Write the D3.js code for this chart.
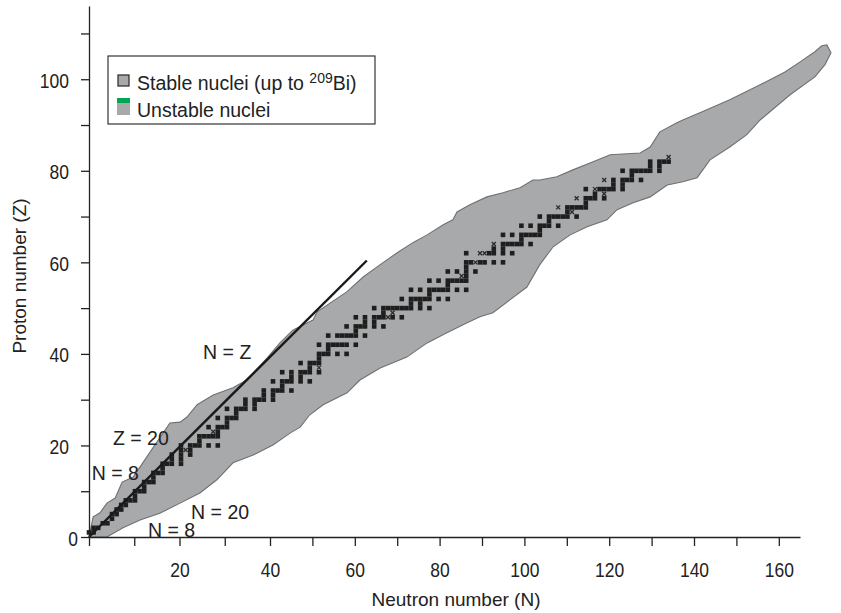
<!DOCTYPE html>
<html>
<head>
<meta charset="utf-8">
<script src="https://cdnjs.cloudflare.com/ajax/libs/d3/7.8.5/d3.min.js"></script>
<style>
  body { margin: 0; background: #fff; }
  text { font-family: "Liberation Sans", Arial, sans-serif; fill: #222; }
</style>
</head>
<body>
<script>
const w = 841;
const h = 613;

// stable nuclides: [Z, [N, ...]]
const stable = [
  [1, [0, 1]], [2, [1, 2]], [3, [3, 4]], [4, [5]], [5, [5, 6]], [6, [6, 7]],
  [7, [7, 8]], [8, [8, 9, 10]], [9, [10]], [10, [10, 11, 12]], [11, [12]],
  [12, [12, 13, 14]], [13, [14]], [14, [14, 15, 16]], [15, [16]],
  [16, [16, 17, 18, 20]], [17, [18, 20]], [18, [18, 20, 22]], [19, [20, 22]],
  [20, [20, 22, 23, 24, 26, 28]], [21, [24]], [22, [24, 25, 26, 27, 28]],
  [23, [28]], [24, [26, 28, 29, 30]], [25, [30]], [26, [28, 30, 31, 32]],
  [27, [32]], [28, [30, 32, 33, 34, 36]], [29, [34, 36]],
  [30, [34, 36, 37, 38, 40]], [31, [38, 40]], [32, [38, 40, 41, 42, 44]],
  [33, [42]], [34, [40, 42, 43, 44, 46, 48]], [35, [44, 46]],
  [36, [42, 44, 46, 47, 48, 50]], [37, [48]], [38, [46, 48, 49, 50]],
  [39, [50]], [40, [50, 51, 52, 54, 56]], [41, [52]],
  [42, [50, 52, 53, 54, 55, 56, 58]], [44, [52, 54, 55, 56, 57, 58, 60]],
  [45, [58]], [46, [56, 58, 59, 60, 62, 64]], [47, [60, 62]],
  [48, [58, 60, 62, 63, 64, 66, 68]], [49, [64]],
  [50, [62, 64, 65, 66, 67, 68, 69, 70, 72, 74]], [51, [70, 72]],
  [52, [68, 70, 71, 72, 73, 74, 76, 78]], [53, [74]],
  [54, [70, 72, 74, 75, 76, 77, 78, 80, 82]], [55, [78]],
  [56, [74, 76, 78, 79, 80, 81, 82]], [57, [82]], [58, [78, 80, 82, 84]],
  [59, [82]], [60, [82, 83, 85, 86, 88, 90]], [62, [82, 87, 88, 90, 92]],
  [63, [88, 90]], [64, [90, 91, 92, 93, 94, 96]], [65, [94]],
  [66, [90, 92, 94, 95, 96, 97, 98]], [67, [98]],
  [68, [94, 96, 98, 99, 100, 102]], [69, [100]],
  [70, [98, 100, 101, 102, 103, 104, 106]], [71, [104]],
  [72, [104, 105, 106, 107, 108]], [73, [108]], [74, [108, 109, 110, 112]],
  [75, [110]], [76, [108, 111, 112, 113, 114, 116]], [77, [114, 116]],
  [78, [114, 116, 117, 118, 120]], [79, [118]],
  [80, [116, 118, 119, 120, 121, 122, 124]], [81, [122, 124]],
  [82, [122, 124, 125, 126]]
];

// long-lived nuclei drawn as crosses: [N, Z]
const longLived = [
  [21, 19], [27, 23], [50, 37], [65, 48], [66, 49], [81, 57], [84, 60],
  [85, 62], [86, 62], [88, 64], [105, 71], [102, 72], [106, 74], [112, 75],
  [110, 76], [112, 78], [126, 83]
];

// outline of the known nuclei band: [N, Z]
const bandUpper = [
  [0, 0], [0.9, 4.4], [2.4, 5.3], [3.9, 7.4], [5.7, 8.5], [7.2, 12], [9.6, 13.1],
  [11.7, 16.2], [13.9, 19.5], [16.1, 22.7], [17.6, 24.9], [19.8, 25.1],
  [21.3, 26.2], [23.5, 28.9], [27, 31], [31.3, 32.6], [34.3, 34.3],
  [35.7, 35.8], [38.7, 39.1], [41.5, 42.4], [44.3, 45.2], [48.7, 47.4],
  [49.6, 49.2], [52.4, 51.1], [56.1, 53.6], [59.6, 56.8], [63.3, 59.5],
  [67, 62.1], [70.4, 64.3], [73.5, 66], [77, 68.2], [79.1, 69.3], [80, 71],
  [82.8, 72.6], [86.5, 74.3], [90, 75.2], [93.7, 76.3], [96.5, 78], [98, 78],
  [101.7, 78.7], [105.2, 80.2], [109.6, 82], [113.3, 83.5], [119.8, 83.9],
  [122, 85.2], [124.1, 88.5], [127.8, 90.5], [129.1, 91.1], [132.8, 92.7],
  [139.3, 95.5], [145.9, 98.8], [151.3, 101.6], [154.6, 103.8], [157.8, 106],
  [159.3, 107.3], [160.4, 107.5]
];
const bandLower = [
  [0, 0], [3.9, 0], [7.4, 2], [11.1, 3.7], [15.4, 5.2], [19.8, 7.4],
  [24.1, 9.6], [27.8, 12.5], [31.3, 16.2], [35.7, 17.9], [40, 20.1],
  [43.7, 22.7], [45.9, 24], [48, 26.7], [50.9, 28.9], [56.1, 31.5],
  [58.9, 34.3], [63.3, 36.9], [69.1, 39.3], [73.5, 42.4], [77.8, 44.6],
  [82.2, 46.8], [85, 48.1], [87.8, 49], [91.5, 51.8], [95.2, 54.6],
  [98, 59.5], [100.9, 63.4], [104.6, 66], [108.3, 67.8], [112.6, 69.3],
  [114.8, 71.5], [118.3, 73], [122, 74.3], [125.7, 76.9], [129.1, 77.6],
  [132.2, 78.5], [135, 82.4], [139.3, 85.2], [143, 87.9], [145.9, 91.1],
  [152.4, 96.6], [157.8, 100.5], [160, 103.2], [161.3, 105.8]
];

const nzLine = [[0, 0], [60.4, 60.4]];

const xTicks = d3.range(0, 161, 10);
const yTicks = d3.range(0, 111, 10);

const labels = [
  { text: "N = Z", n: 24.8, z: 38.9 },
  { text: "Z = 20", n: 5.2, z: 20.1 },
  { text: "N = 8", n: 0.6, z: 12.5 },
  { text: "N = 20", n: 22.2, z: 3.9 },
  { text: "N = 8", n: 12.8, z: 0.1 }
];

const svg = d3.select("body").append("svg").attr("width", w).attr("height", h);

// scales
const x = d3.scaleLinear().domain([0, 160]).range([89, 825]);
// tick positions as printed along the bottom axis
const xAxisScale = d3.scaleLinear().domain([0, 40, 165]).range([89, 270, 800]);
const y = d3.scaleLinear().domain([0, 116]).range([537, 6]);

// band of unstable nuclei
const line = d3.line().x((d) => x(d[0])).y((d) => y(d[1]));
svg
  .append("path")
  .attr("d", line(bandUpper.concat(bandLower.slice().reverse())) + "Z")
  .style("fill", "#a8a9ab")
  .style("stroke", "#6f7072")
  .style("stroke-width", 1.1);

// stable nuclei
const cells = [];
stable.forEach(([z, ns]) => ns.forEach((n) => cells.push([n, z])));
const cw = 4.6;
svg
  .selectAll("rect.stable")
  .data(cells)
  .enter()
  .append("rect")
  .attr("class", "stable")
  .attr("x", (d) => x(d[0]) - cw / 2)
  .attr("y", (d) => y(d[1]) - cw / 2)
  .attr("width", cw)
  .attr("height", cw)
  .style("fill", "#1e1e1e");

// long-lived nuclei
svg
  .selectAll("path.cross")
  .data(longLived)
  .enter()
  .append("path")
  .attr("class", "cross")
  .attr("transform", (d) => "translate(" + x(d[0]) + "," + y(d[1]) + ")")
  .attr("d", "M-2,-2L2,2M-2,2L2,-2")
  .style("stroke", "#2a2a2a")
  .style("stroke-width", 1.3)
  .style("fill", "none");

// N = Z line
svg
  .append("path")
  .attr("d", line(nzLine))
  .style("stroke", "#1a1a1a")
  .style("stroke-width", 2.4)
  .style("fill", "none");

// labels
svg
  .selectAll("text.note")
  .data(labels)
  .enter()
  .append("text")
  .attr("class", "note")
  .attr("x", (d) => x(d.n))
  .attr("y", (d) => y(d.z))
  .style("font-size", "19.5px")
  .text((d) => d.text);

// axes
const xAxis = d3
  .axisBottom(xAxisScale)
  .tickValues(xTicks)
  .tickSize(9)
  .tickSizeOuter(0)
  .tickFormat((d) => (d > 0 && d % 20 === 0 ? d : ""));
const yAxis = d3
  .axisLeft(y)
  .tickValues(yTicks)
  .tickSize(8)
  .tickSizeOuter(0)
  .tickFormat((d) => (d % 20 === 0 ? d : ""));

const gx = svg.append("g").attr("transform", "translate(0,537)").call(xAxis);
const gy = svg.append("g").attr("transform", "translate(89,0)").call(yAxis);
[gx, gy].forEach((g) => {
  g.selectAll("path, line").style("stroke", "#222").style("stroke-width", 1.3);
  g.selectAll("text")
    .style("font-family", '"Liberation Sans", Arial, sans-serif')
    .style("font-size", "17.5px")
    .style("fill", "#222");
});
// the printed labels are slightly taller than wide
gx.selectAll(".tick text")
  .attr("y", 0)
  .attr("dy", null)
  .attr("transform", "translate(0,40) scale(1,1.15)");
gy.selectAll(".tick text")
  .attr("x", 0)
  .attr("dy", null)
  .attr("transform", (d) => (d === 0 ? "translate(-11,8) scale(1,1.15)" : "translate(-20,8) scale(1,1.15)"));

svg
  .append("text")
  .attr("x", 456)
  .attr("y", 606)
  .attr("text-anchor", "middle")
  .style("font-size", "19px")
  .text("Neutron number (N)");
svg
  .append("text")
  .attr("transform", "translate(26,276) rotate(-90)")
  .attr("text-anchor", "middle")
  .style("font-size", "19px")
  .text("Proton number (Z)");

// legend
const legend = svg.append("g");
legend
  .append("rect")
  .attr("x", 108)
  .attr("y", 56)
  .attr("width", 267)
  .attr("height", 68)
  .style("fill", "#fff")
  .style("stroke", "#222")
  .style("stroke-width", 1.1);
legend
  .append("rect")
  .attr("x", 118)
  .attr("y", 75)
  .attr("width", 11)
  .attr("height", 11)
  .style("fill", "#a8a9ab")
  .style("stroke", "#333")
  .style("stroke-width", 1.3);
const t1 = legend.append("text").attr("x", 137).attr("y", 90).style("font-size", "19.5px");
t1.append("tspan").text("Stable nuclei (up to ");
t1.append("tspan").attr("dy", -7).style("font-size", "14px").text("209");
t1.append("tspan").attr("dy", 7).text("Bi)");
legend
  .append("rect")
  .attr("x", 117)
  .attr("y", 98)
  .attr("width", 13)
  .attr("height", 5)
  .style("fill", "#00a651");
legend
  .append("rect")
  .attr("x", 117)
  .attr("y", 103)
  .attr("width", 13)
  .attr("height", 12)
  .style("fill", "#a8a9ab");
legend
  .append("text")
  .attr("x", 137)
  .attr("y", 117)
  .style("font-size", "19.5px")
  .text("Unstable nuclei");
</script>
</body>
</html>
